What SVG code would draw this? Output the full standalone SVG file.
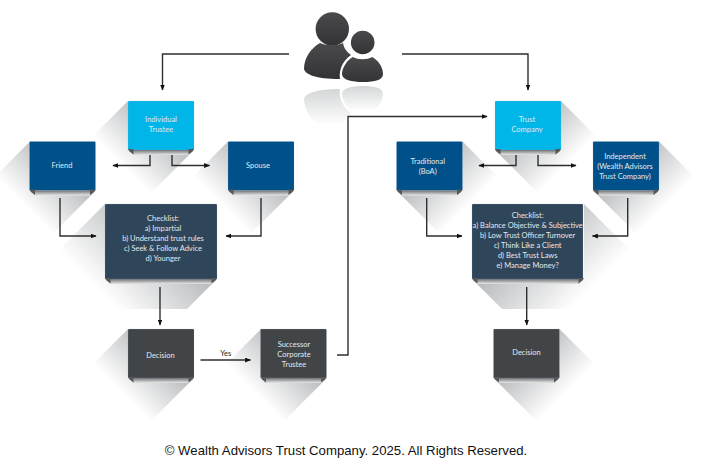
<svg xmlns="http://www.w3.org/2000/svg" xmlns:xlink="http://www.w3.org/1999/xlink" width="717" height="468" viewBox="0 0 717 468">
<style>
.lbl{font-family:Lato,"Noto Sans",sans-serif;font-size:7.500px;fill:#e2e9ef;text-anchor:middle;dominant-baseline:central}
.box{stroke:#9fb4c4;stroke-opacity:.35;stroke-width:.6}
.cyan{fill:#00b6e8}.blue{fill:#00518a}.slate{fill:#2f4559}.dark{fill:#414548}
.conn{fill:none;stroke:#2e2e2e;stroke-width:1.4;marker-end:url(#arr)}
.tab{fill:#55595c}
</style>
<defs>
<marker id="arr" viewBox="0 0 10 8" refX="9" refY="4" markerWidth="6" markerHeight="5" markerUnits="userSpaceOnUse" orient="auto"><path d="M0 0L10 4L0 8z" fill="#111"/></marker>
<linearGradient id="sg" gradientUnits="userSpaceOnUse" x1="30" y1="30" x2="68" y2="68"><stop offset="0" stop-color="#bcbec0"/><stop offset="1" stop-color="#fff"/></linearGradient>
<linearGradient id="sgb" gradientUnits="userSpaceOnUse" x1="46" y1="46" x2="102" y2="102"><stop offset="0" stop-color="#bcbec0"/><stop offset="1" stop-color="#fff"/></linearGradient>
<linearGradient id="strip" x1="0" y1="0" x2="0" y2="1"><stop offset="0" stop-color="#6f7275"/><stop offset="1" stop-color="#e8e8e8"/></linearGradient>
<linearGradient id="refl" x1="0" y1="0" x2="0" y2="1"><stop offset="0" stop-color="#fff"/><stop offset="1" stop-color="#d4d6d7"/></linearGradient>
<linearGradient id="head" x1="0" y1="0" x2="0" y2="1"><stop offset="0" stop-color="#4a4a4c"/><stop offset="1" stop-color="#333335"/></linearGradient>
<path id="shS" d="M66 0L120 54L48 97L0 49L66 49z" fill="url(#sg)"/>
<path id="shB" d="M112 0L176 64L135 105L30 105L0 75L112 75z" fill="url(#sgb)"/>
<g id="curlS"><rect x="4" y="49" width="58" height="5" fill="url(#strip)"/><path class="tab" d="M0 48H5.500V53.500L1.500 50.500zM66 48H60.500V53.500L64.500 50.500z"/></g>
<g id="curlB"><rect x="4" y="75" width="104" height="5" fill="url(#strip)"/><path class="tab" d="M0 74H5.500V79.500L1.500 76.500zM112 74H106.500V79.500L110.500 76.500z"/></g>
<path id="bigP" d="M320 43C311 48 304 58 304 69C305 74 315 79 340 79C339 72 341 62 351 55C346 51 344 48 343 43C337 46 327 46 320 43z"/>
<path id="smallP" d="M353 57C347 60 342 68 342 74C342 80 352 82 363 82C375 82 383 80 383 74C383 67 378 60 372 57C367 60 358 60 353 57z"/>
</defs>
<rect width="717" height="468" fill="#fff"/>

<g id="shadows">
<use xlink:href="#shS" transform="translate(194,101) scale(-1,1)"/>
<use xlink:href="#shS" transform="translate(96,141.500) scale(-1,1)"/>
<use xlink:href="#shS" transform="translate(294,141.500) scale(-1,1)"/>
<use xlink:href="#shB" transform="translate(217,204) scale(-1,1)"/>
<use xlink:href="#shS" transform="translate(194,329) scale(-1,1)"/>
<use xlink:href="#shS" transform="translate(327,329) scale(-1,1)"/>
<use xlink:href="#shS" transform="translate(495,101)"/>
<use xlink:href="#shS" transform="translate(396.500,141.500)"/>
<use xlink:href="#shS" transform="translate(593,141.500)"/>
<use xlink:href="#shB" transform="translate(472,204)"/>
<use xlink:href="#shS" transform="translate(493.500,329)"/>
</g>

<g id="people">
<g transform="translate(0,168) scale(1,-1)" fill="url(#refl)"><use xlink:href="#bigP"/><use xlink:href="#smallP"/></g>
<g fill="url(#head)"><circle cx="332.300" cy="29" r="16.700"/><use xlink:href="#bigP"/><circle cx="362.700" cy="42.500" r="11.800"/><use xlink:href="#smallP"/></g>
</g>

<g id="connectors">
<path class="conn" d="M289 54H162.500V90"/>
<path class="conn" d="M402 54H528V90"/>
<path class="conn" d="M150 153V165.500H113"/>
<path class="conn" d="M172 153V165.500H209.500"/>
<path class="conn" d="M60 198V236H96"/>
<path class="conn" d="M261 198V236H226"/>
<path class="conn" d="M160 287V325"/>
<path class="conn" d="M200.500 360H250.500"/>
<path class="conn" d="M337 355H348V116.500H487"/>
<path class="conn" d="M516 153V165.500H479"/>
<path class="conn" d="M538 153V165.500H576"/>
<path class="conn" d="M426.700 198V236H462"/>
<path class="conn" d="M627.700 198V236H592.500"/>
<path class="conn" d="M526.700 287V325"/>
<text x="225.700" y="356" font-family="Lato,sans-serif" font-size="7.500" fill="#222" text-anchor="middle">Yes</text>
</g>

<g id="n-individual" transform="translate(128,101)"><rect class="box cyan" width="66" height="49" rx="1"/><use xlink:href="#curlS"/><text class="lbl" x="33" y="18">Individual</text><text class="lbl" x="33" y="28">Trustee</text></g>
<g id="n-friend" transform="translate(29.500,141.500)"><rect class="box blue" width="66" height="49" rx="1"/><use xlink:href="#curlS"/><text class="lbl" x="32.500" y="24">Friend</text></g>
<g id="n-spouse" transform="translate(228,141.500)"><rect class="box blue" width="66" height="49" rx="1"/><use xlink:href="#curlS"/><text class="lbl" x="30" y="24">Spouse</text></g>
<g id="n-check-left" transform="translate(105,204)"><rect class="box slate" width="112" height="75" rx="1"/><use xlink:href="#curlB"/><text class="lbl" x="58" y="14">Checklist:</text><text class="lbl" x="58" y="24">a) Impartial</text><text class="lbl" x="58" y="34">b) Understand trust rules</text><text class="lbl" x="58" y="44">c) Seek &amp; Follow Advice</text><text class="lbl" x="58" y="54">d) Younger</text></g>
<g id="n-decision-left" transform="translate(128,329)"><rect class="box dark" width="66" height="49" rx="1"/><use xlink:href="#curlS"/><text class="lbl" x="32.500" y="26.500">Decision</text></g>
<g id="n-successor" transform="translate(260.500,329)"><rect class="box dark" width="66" height="49" rx="1"/><use xlink:href="#curlS"/><text class="lbl" x="33.500" y="15">Successor</text><text class="lbl" x="33.500" y="25">Corporate</text><text class="lbl" x="33.500" y="35">Trustee</text></g>
<g id="n-trust" transform="translate(495,101)"><rect class="box cyan" width="66" height="49" rx="1"/><use xlink:href="#curlS"/><text class="lbl" x="32" y="18">Trust</text><text class="lbl" x="32" y="28">Company</text></g>
<g id="n-traditional" transform="translate(396.500,141.500)"><rect class="box blue" width="66" height="49" rx="1"/><use xlink:href="#curlS"/><text class="lbl" x="31.200" y="19.500">Traditional</text><text class="lbl" x="31.200" y="29.500">(BoA)</text></g>
<g id="n-independent" transform="translate(593,141.500)"><rect class="box blue" width="66" height="49" rx="1"/><use xlink:href="#curlS"/><text class="lbl" x="32" y="14.500">Independent</text><text class="lbl" x="32" y="24.500">(Wealth Advisors</text><text class="lbl" x="32" y="34.500">Trust Company)</text></g>
<g id="n-check-right" transform="translate(472,204)"><rect class="box slate" width="111" height="75" rx="1"/><use xlink:href="#curlB"/><text class="lbl" x="55.700" y="11.500">Checklist:</text><text class="lbl" x="55.700" y="21.500">a) Balance Objective &amp; Subjective</text><text class="lbl" x="55.700" y="31.500">b) Low Trust Officer Turnover</text><text class="lbl" x="55.700" y="41.500">c) Think Like a Client</text><text class="lbl" x="55.700" y="51.500">d) Best Trust Laws</text><text class="lbl" x="55.700" y="61.500">e) Manage Money?</text></g>
<g id="n-decision-right" transform="translate(493.500,329)"><rect class="box dark" width="66" height="49" rx="1"/><use xlink:href="#curlS"/><text class="lbl" x="33" y="23.500">Decision</text></g>

<text x="346" y="455" font-family="'Liberation Sans',Arial,sans-serif" font-size="13.200" fill="#111" text-anchor="middle">© Wealth Advisors Trust Company. 2025. All Rights Reserved.</text>
</svg>
